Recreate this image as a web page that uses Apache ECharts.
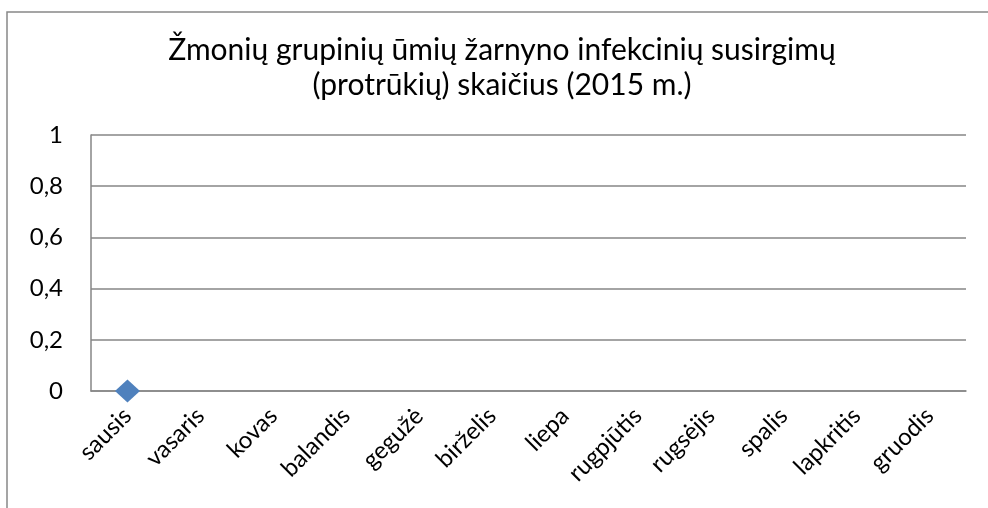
<!DOCTYPE html>
<html><head><meta charset="utf-8">
<script src="https://cdn.jsdelivr.net/npm/echarts@6/dist/echarts.min.js"></script>
<style>html,body{margin:0;padding:0;background:#fff}#c{width:988px;height:508px}</style>
</head><body><div id="c"></div>
<script>
const categories = ['sausis','vasaris','kovas','balandis','gegužė','birželis','liepa','rugpjūtis','rugsėjis','spalis','lapkritis','gruodis'];
const values = [0, null, null, null, null, null, null, null, null, null, null, null];
const yTicks = [0, 0.2, 0.4, 0.6, 0.8, 1];
const titleLines = ['Žmonių grupinių ūmių žarnyno infekcinių susirgimų', '(protrūkių) skaičius (2015 m.)'];

const font = "Lato, 'Open Sans', sans-serif";
const chart = echarts.init(document.getElementById('c'));
chart.setOption({
  animation: false,
  backgroundColor: '#fff',
  graphic: [{
    type: 'polyline', shape: {points: [[7, 520], [7, 12], [1000, 12]]},
    style: {fill: 'none', stroke: '#888888', lineWidth: 1.5}, silent: true, z: -1
  }],
  title: {
    text: titleLines.join('\n'),
    left: 497, top: 28, textAlign: 'center',
    textStyle: {fontFamily: font, fontSize: 30, fontWeight: 'normal', color: '#000', lineHeight: 35}
  },
  grid: {left: 91, right: 22, top: 135, bottom: 117, containLabel: false},
  xAxis: {
    type: 'category', data: categories, boundaryGap: true,
    axisLine: {show: true, lineStyle: {color: '#868686', width: 1.5}},
    axisTick: {show: false},
    axisLabel: {rotate: 45, margin: 21, interval: 0, fontFamily: font, fontSize: 24, color: '#000'}
  },
  yAxis: {
    type: 'value', min: yTicks[0], max: yTicks[yTicks.length-1], interval: 0.2,
    axisLine: {show: true, lineStyle: {color: '#868686', width: 1.5}},
    axisTick: {show: false},
    splitLine: {show: true, lineStyle: {color: '#868686', width: 1.5}},
    axisLabel: {margin: 28, fontFamily: font, fontSize: 24, color: '#000',
      formatter: v => String(Math.round(v*10)/10).replace('.', ',')}
  },
  series: [{
    type: 'line', data: values, symbol: 'diamond', symbolSize: [25, 23],
    itemStyle: {color: '#4F81BD'}, lineStyle: {color: '#4F81BD', width: 2.5},
    connectNulls: false
  }]
});
</script></body></html>
